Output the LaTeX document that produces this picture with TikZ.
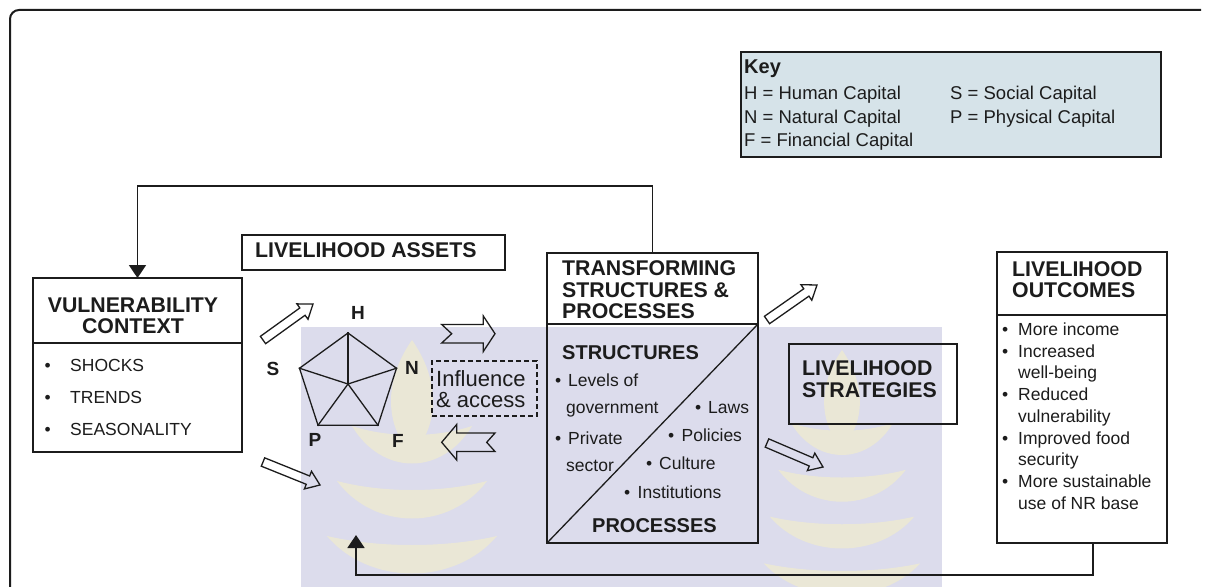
\documentclass[tikz,border=0pt]{standalone}
\usepackage{fontspec}
\setmainfont{Liberation Sans}
\usetikzlibrary{arrows.meta,calc,shapes.geometric}

\definecolor{ink}{RGB}{28,28,28}
\definecolor{keyfill}{RGB}{214,227,233}
\definecolor{wash}{RGB}{220,220,236}
\definecolor{leafc}{RGB}{234,231,214}

\newcommand\hdrfont{\fontsize{21.3}{21.3}\selectfont\bfseries}
\newcommand\subfont{\fontsize{20}{20}\selectfont\bfseries}
\newcommand\itemfont{\fontsize{17.5}{17.5}\selectfont}
\newcommand\keyfont{\fontsize{18.5}{18.5}\selectfont}
\newcommand\inflfont{\fontsize{22}{22}\selectfont}
\newcommand\bul[1]{\makebox[#1][l]{\textbullet}}

% hollow block arrow from tail #1 to tip #2
\newcommand\hollowarrow[2]{%
  \coordinate (hb) at ($(#2)!13pt!(#1)$);
  \draw[harrow] ($(#1)!4.5pt!90:(#2)$) -- ($(hb)!4.5pt!90:(#2)$)
     -- ($(hb)!9.5pt!90:(#2)$) -- (#2) -- ($(hb)!9.5pt!-90:(#2)$)
     -- ($(hb)!4.5pt!-90:(#2)$) -- ($(#1)!4.5pt!-90:(#2)$) -- cycle;}

\tikzset{
  box/.style={draw=ink, line width=1.6pt, inner sep=0pt, outer sep=0pt, anchor=north west},
  rule/.style={draw=ink, line width=1.5pt},
  hd/.style={font=\hdrfont, text=ink, inner sep=0pt, anchor=base west},
  sub/.style={font=\subfont, text=ink, inner sep=0pt, anchor=base west},
  item/.style={font=\itemfont, text=ink, inner sep=0pt, anchor=base west},
  keyitem/.style={font=\keyfont, text=ink, inner sep=0pt, anchor=base west},
  lbl/.style={font=\fontsize{19}{19}\selectfont\bfseries, text=ink, inner sep=0pt},
  fb/.style={draw=ink, line width=1.8pt, -{Triangle[length=13pt,width=17pt]}},
  harrow/.style={draw=ink, line width=1.3pt, line join=miter},
  fern/.pic={
    \fill[leafc] (0,0) .. controls (-28,40) and (-28,85) .. (0,115)
                       .. controls (28,85) and (28,40) .. (0,0) -- cycle;
    \foreach \d/\a in {128/60,183/75,238/85,293/92}{
      \fill[leafc] ({-\a},{\d-42}) .. controls ({-0.5*\a},{\d+8}) and ({0.5*\a},{\d+8}) .. ({\a},{\d-42})
                   .. controls ({0.4*\a},{\d-30}) and ({-0.4*\a},{\d-30}) .. cycle;
    }
  }
}

\begin{document}
\begin{tikzpicture}[x=1pt,y=-1pt]
\useasboundingbox (0,0) rectangle (1212,586);
\fill[white] (0,0) rectangle (1212,586);

% background emblem
\fill[wash] (301,327) rectangle (942,600);
\begin{scope}
  \clip (301,327) rectangle (942,600);
  \pic (fernA) at (412,340) {fern};
  \pic[scale=0.85] (fernB) at (842,350) {fern};
\end{scope}

% outer frame
\draw[ink, line width=2pt, rounded corners=9pt] (10,600) -- (10,10) -- (1201,10);

% key
\node[box, fill=keyfill, line width=1.5pt, minimum width=420pt, minimum height=105pt] (key) at (741,52) {};
\node[font=\fontsize{20}{20}\selectfont\bfseries, text=ink, inner sep=0pt, anchor=base west] (keyT) at (744,74) {Key};
\node[keyitem] (kH) at (744,99.5) {H = Human Capital};
\node[keyitem] (kN) at (744,123.5) {N = Natural Capital};
\node[keyitem] (kF) at (744,146.5) {F = Financial Capital};
\node[keyitem] (kS) at (950,99.5) {S = Social Capital};
\node[keyitem] (kP) at (950,123.5) {P = Physical Capital};

% vulnerability context
\node[box, minimum width=209pt, minimum height=174pt] (vuln) at (33,278) {};
\draw[rule] (vuln.west |- 0,343) -- (vuln.east |- 0,343);
\node[hd, anchor=base] (vulnT1) at (133,312.5) {VULNERABILITY};
\node[hd, anchor=base] (vulnT2) at (133,333.5) {CONTEXT};
\node[item] (v1) at (44.5,371) {\bul{25.5pt}SHOCKS};
\node[item] (v2) at (44.5,403) {\bul{25.5pt}TRENDS};
\node[item] (v3) at (44.5,435) {\bul{25.5pt}SEASONALITY};

% livelihood assets
\node[box, minimum width=263pt, minimum height=35pt] (assets) at (242,235) {};
\node[hd] (assetsT) at (255,257.5) {LIVELIHOOD ASSETS};

% asset pentagon
\node[draw=ink, line width=1.3pt, regular polygon, regular polygon sides=5,
      minimum size=102pt, inner sep=0pt] (pent) at (348,384) {};
\foreach \c in {1,...,5} \draw[ink, line width=1.3pt] (pent.center) -- (pent.corner \c);
\node[lbl] (lH) at (358,313) {H};
\node[lbl] (lS) at (273,369) {S};
\node[lbl] (lN) at (412,368) {N};
\node[lbl] (lP) at (315,440) {P};
\node[lbl] (lF) at (398,441) {F};

% influence & access
\node[box, draw=ink, dashed, dash pattern=on 5pt off 3pt, line width=1.4pt,
      minimum width=105pt, minimum height=55pt] (infl) at (432,361) {};
\node[font=\inflfont, text=ink, inner sep=0pt, anchor=base west] (infl1) at (436,386) {Influence};
\node[font=\inflfont, text=ink, inner sep=0pt, anchor=base west] (infl2) at (436,407) {\& access};

% transforming structures & processes
\node[box, minimum width=211pt, minimum height=290pt] (trans) at (547,253) {};
\draw[rule] (trans.west |- 0,324) -- (trans.east |- 0,324);
\draw[ink, line width=1.3pt] (trans.south west) -- (trans.east |- 0,324);
\node[hd] (transT1) at (562,275.7) {TRANSFORMING};
\node[hd] (transT2) at (562,297.7) {STRUCTURES \&};
\node[hd] (transT3) at (562,318.7) {PROCESSES};
\node[sub] (structT) at (562,359) {STRUCTURES};
\node[sub] (procT) at (592,532) {PROCESSES};
\node[item] (s1) at (555,386) {\bul{13pt}Levels of};
\node[item] (s2) at (566,413) {government};
\node[item] (s3) at (555,444) {\bul{13pt}Private};
\node[item] (s4) at (566,471) {sector};
\node[item] (p1) at (695,413) {\bul{13pt}Laws};
\node[item] (p2) at (668,441) {\bul{13.5pt}Policies};
\node[item] (p3) at (646,469) {\bul{13pt}Culture};
\node[item] (p4) at (624,498) {\bul{13.5pt}Institutions};

% livelihood strategies
\node[box, line width=1.5pt, minimum width=168pt, minimum height=80pt] (strat) at (789,344) {};
\node[hd] (stratT1) at (802,375.5) {LIVELIHOOD};
\node[hd] (stratT2) at (802,397.5) {STRATEGIES};

% livelihood outcomes
\node[box, minimum width=170pt, minimum height=291pt] (outc) at (997,252) {};
\draw[rule] (outc.west |- 0,315) -- (outc.east |- 0,315);
\node[hd] (outcT1) at (1012,276.5) {LIVELIHOOD};
\node[hd] (outcT2) at (1012,297.5) {OUTCOMES};
\foreach \txt [count=\i] in {{\bul{16pt}More income},{\bul{16pt}Increased},{\hspace*{16pt}well-being},
    {\bul{16pt}Reduced},{\hspace*{16pt}vulnerability},{\bul{16pt}Improved food},
    {\hspace*{16pt}security},{\bul{16pt}More sustainable},{\hspace*{16pt}use of NR base}}
  \node[item] (o\i) at (1002,{335.5+21.7*(\i-1)}) {\txt};

% feedback connectors
\draw[fb] (trans.north) -- (trans.north |- 0,186) -- (vuln.north |- 0,186) -- (vuln.north);
\coordinate (fbend) at (356,535);
\draw[fb] ([xshift=11pt]outc.south) -- ++(0,32) -| (fbend);

% hollow arrows
\coordinate (ua0) at (263,340); \coordinate (ua1) at (313,304);
\coordinate (da0) at (263,462); \coordinate (da1) at (320,485);
\coordinate (tu0) at (767,320); \coordinate (tu1) at (817,285);
\coordinate (td0) at (767,443); \coordinate (td1) at (823,467);
\hollowarrow{ua0}{ua1}
\hollowarrow{da0}{da1}
\hollowarrow{tu0}{tu1}
\hollowarrow{td0}{td1}

% notched arrows between assets and structures
\draw[harrow] (441.7,324.5) -- (483.3,324.5) -- (483.3,316) -- (495,333.7) -- (483.3,351.5)
  -- (483.3,343) -- (441.7,343) -- (451.7,333.7) -- cycle;
\draw[harrow] (441.7,442.3) -- (456.7,424.5) -- (456.7,433) -- (495,433) -- (486.7,442.3)
  -- (495,451.5) -- (456.7,451.5) -- (456.7,460) -- cycle;
\end{tikzpicture}
\end{document}
